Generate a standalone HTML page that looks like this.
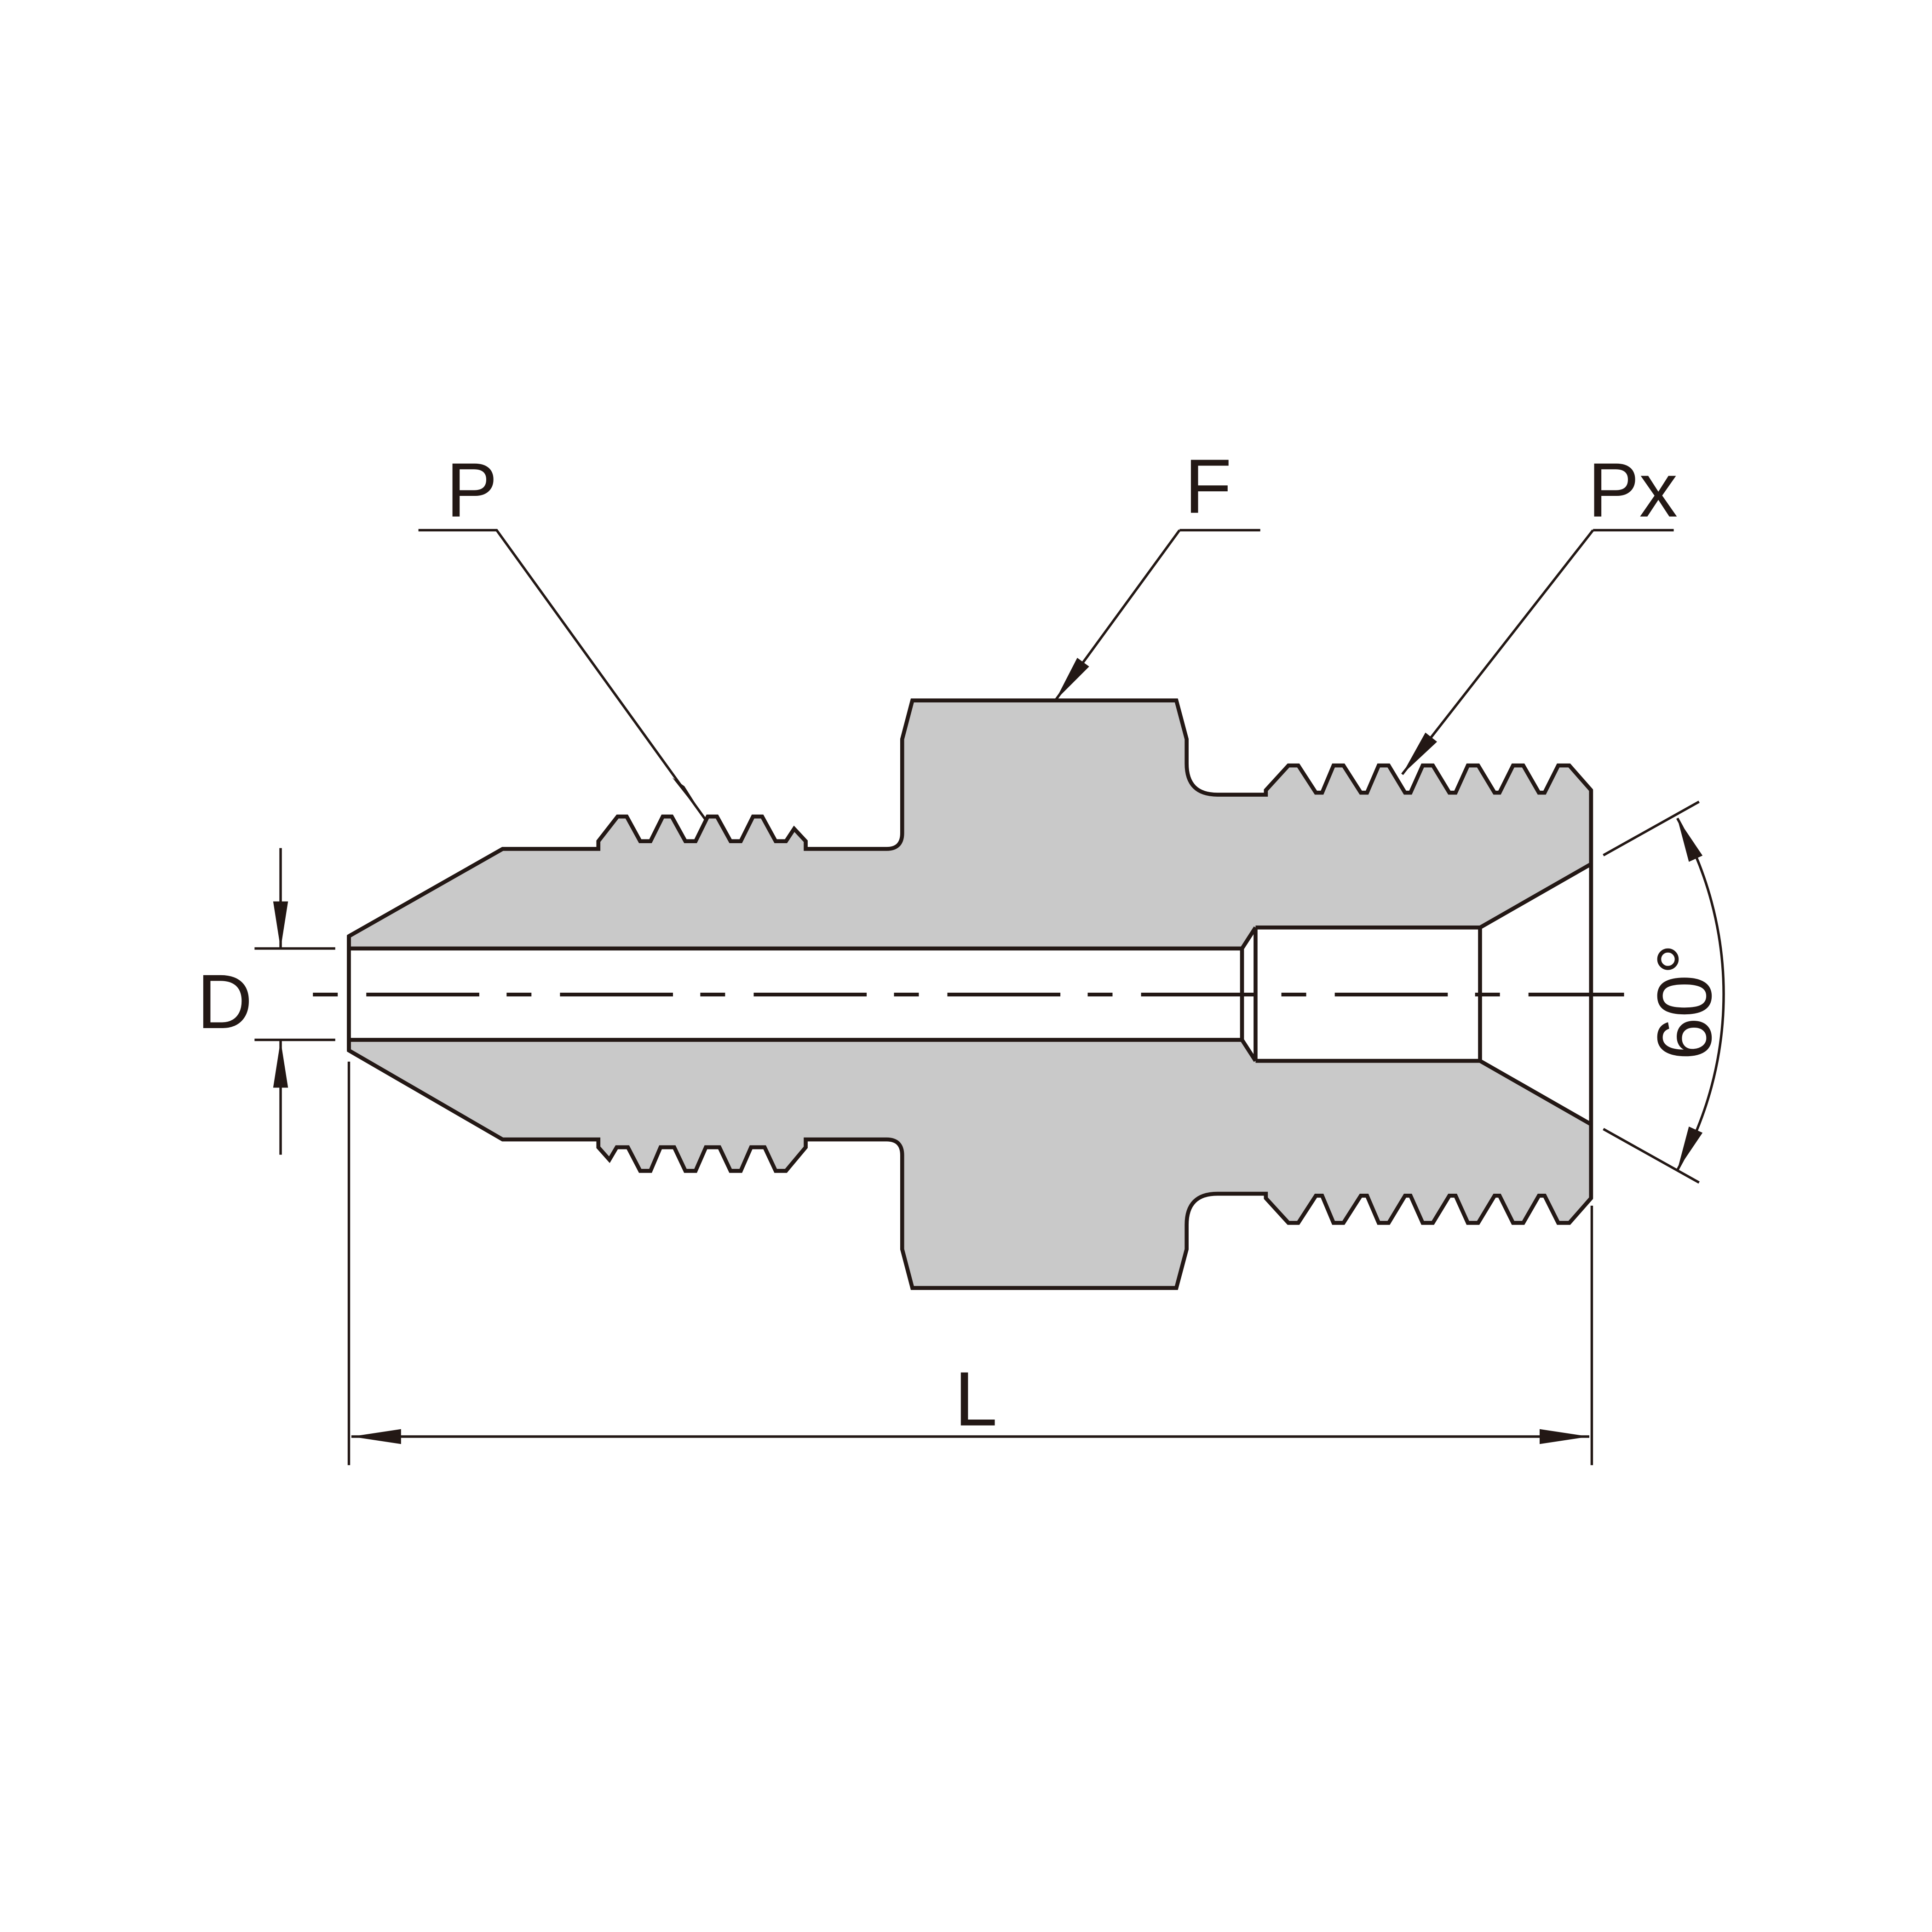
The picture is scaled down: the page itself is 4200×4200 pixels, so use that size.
<!DOCTYPE html>
<html><head><meta charset="utf-8"><style>
html,body{margin:0;padding:0;background:#fff;}
svg{display:block;}
</style></head><body>
<svg width="4200" height="4200" viewBox="0 0 1556 1556" xmlns="http://www.w3.org/2000/svg">
<rect width="1556" height="1556" fill="#fff"/>
<g stroke="#231815" stroke-linejoin="miter" fill="none">
<path fill="#c9c9c9" stroke-width="3.2" d="M281,754 L404.8,683.7 L481.9,683.7 L481.9,677.5 L497.4,657.6 L504.7,657.6 L515.6,677.5 L523.9,677.5 L533.8,657.6 L541,657.6 L552,677.5 L560.2,677.5 L570,657.6 L577.4,657.6 L588.4,677.5 L596.6,677.5 L606.5,657.6 L613.8,657.6 L624.7,677.5 L633,677.5 L639.6,667.5 L648.9,677.5 L648.9,683.7 L714,683.7 Q726.6,683.7 726.6,671 L726.6,595.3 L734.8,564.1 L947.4,564.1 L955.7,595.3 L955.7,615 Q955.7,640 980.5,640 L1019.5,640 L1019.5,636.4 L1037.7,616.5 L1045.6,616.5 L1059.8,638.4 L1064.8,638.4 L1074,616.5 L1082,616.5 L1096,638.4 L1101,638.4 L1110.4,616.5 L1118.4,616.5 L1131.6,638.4 L1136,638.4 L1145.8,616.5 L1154,616.5 L1167.3,638.4 L1172.3,638.4 L1182.2,616.5 L1190.5,616.5 L1203.7,638.4 L1207.7,638.4 L1218.6,616.5 L1226.8,616.5 L1239.4,638.4 L1244,638.4 L1255,616.5 L1263.9,616.5 L1281.4,636.4 L1281.4,965 L1263.9,984.9 L1255,984.9 L1244,963 L1239.4,963 L1226.8,984.9 L1218.6,984.9 L1207.7,963 L1203.7,963 L1190.5,984.9 L1182.2,984.9 L1172.3,963 L1167.3,963 L1154,984.9 L1145.8,984.9 L1136,963 L1131.6,963 L1118.4,984.9 L1110.4,984.9 L1101,963 L1096,963 L1082,984.9 L1074,984.9 L1064.8,963 L1059.8,963 L1045.6,984.9 L1037.7,984.9 L1019.5,965 L1019.5,961.4 L980.5,961.4 Q955.7,961.4 955.7,986.4 L955.7,1006.1 L947.4,1037.3 L734.8,1037.3 L726.6,1006.1 L726.6,930.4 Q726.6,917.7 714,917.7 L648.9,917.7 L648.9,924 L633,943 L624.7,943 L615.8,924 L604.9,924 L596.6,943 L588.4,943 L579.4,924 L568.5,924 L560.2,943 L552,943 L543,924 L532,924 L523.9,943 L515.6,943 L505.7,924 L496.7,924 L490.8,934 L481.9,924 L481.9,917.7 L404.8,917.7 L281,846 Z"/>
<path fill="#fff" stroke="none" d="M281,763.9 L1000.3,763.9 L1011.2,747 L1192,747 L1281.4,695.9 L1281.4,905.5 L1192,854.4 L1011.2,854.4 L1000.3,837.5 L281,837.5 Z"/>
<path stroke-width="3.2" d="M281,754 L281,846 M281,763.9 L1000.3,763.9 M281,837.5 L1000.3,837.5 M1000.3,763.9 L1000.3,837.5 M1000.3,763.9 L1011.2,747 M1000.3,837.5 L1011.2,854.4 M1011.2,747 L1011.2,854.4 M1011.2,747 L1192,747 M1011.2,854.4 L1192,854.4 M1192,747 L1192,854.4 M1192,747 L1281.4,695.9 M1192,854.4 L1281.4,905.5 M1281.4,636.4 L1281.4,965"/>
<path stroke-width="3" d="M252,801 L1308,801" stroke-dasharray="20 23 91 22" />
<path stroke-width="2" d="M205,763.9 L270,763.9 M205,837.5 L270,837.5 M226,683 L226,764 M226,838 L226,930"/>
<path stroke-width="2" d="M281,855 L281,1180 M1282,971 L1282,1180 M283,1157 L1280,1157"/>
<path stroke-width="2" d="M337,427 L400,427 L568.5,660.5 M950,427 L1015,427 M950,427 L850,564 M1283,427 L1348,427 M1283,427 L1129.3,623.6"/>
<path stroke-width="2" d="M1291.3,688.8 L1368.4,645.7 M1291.3,909.3 L1368.4,952.4 M1350.9,659 A287.8,287.8 0 0 1 1350.9,942.4"/>
</g>
<g fill="#231815">
<polygon points="226,764 220,726 232,726"/>
<polygon points="226,838 220,876 232,876"/>
<polygon points="283,1157 323,1151 323,1163"/>
<polygon points="1280,1157 1240,1151 1240,1163"/>
<polygon points="568.5,660.5 551.2,633.2 541.4,626.2"/>
<polygon points="850,564 877.2,536.8 867.6,529.8"/>
<polygon points="1129.3,623.6 1157.4,597.4 1148,590"/>
<polygon points="1350.9,659 1371.2,689.1 1360.2,694.1"/>
<polygon points="1350.9,942.4 1371.2,912.3 1360.2,907.3"/>
</g>
<g font-family="'Liberation Sans', sans-serif" font-size="62" fill="#231815" text-anchor="middle">
<text x="380" y="416">P</text>
<text x="973" y="413">F</text>
<text x="1315" y="416">Px</text>
<text x="181" y="828">D</text>
<text x="786" y="1148">L</text>
<text transform="translate(1378,807) rotate(-90)" x="0" y="0">60°</text>
</g>
</svg>
</body></html>
